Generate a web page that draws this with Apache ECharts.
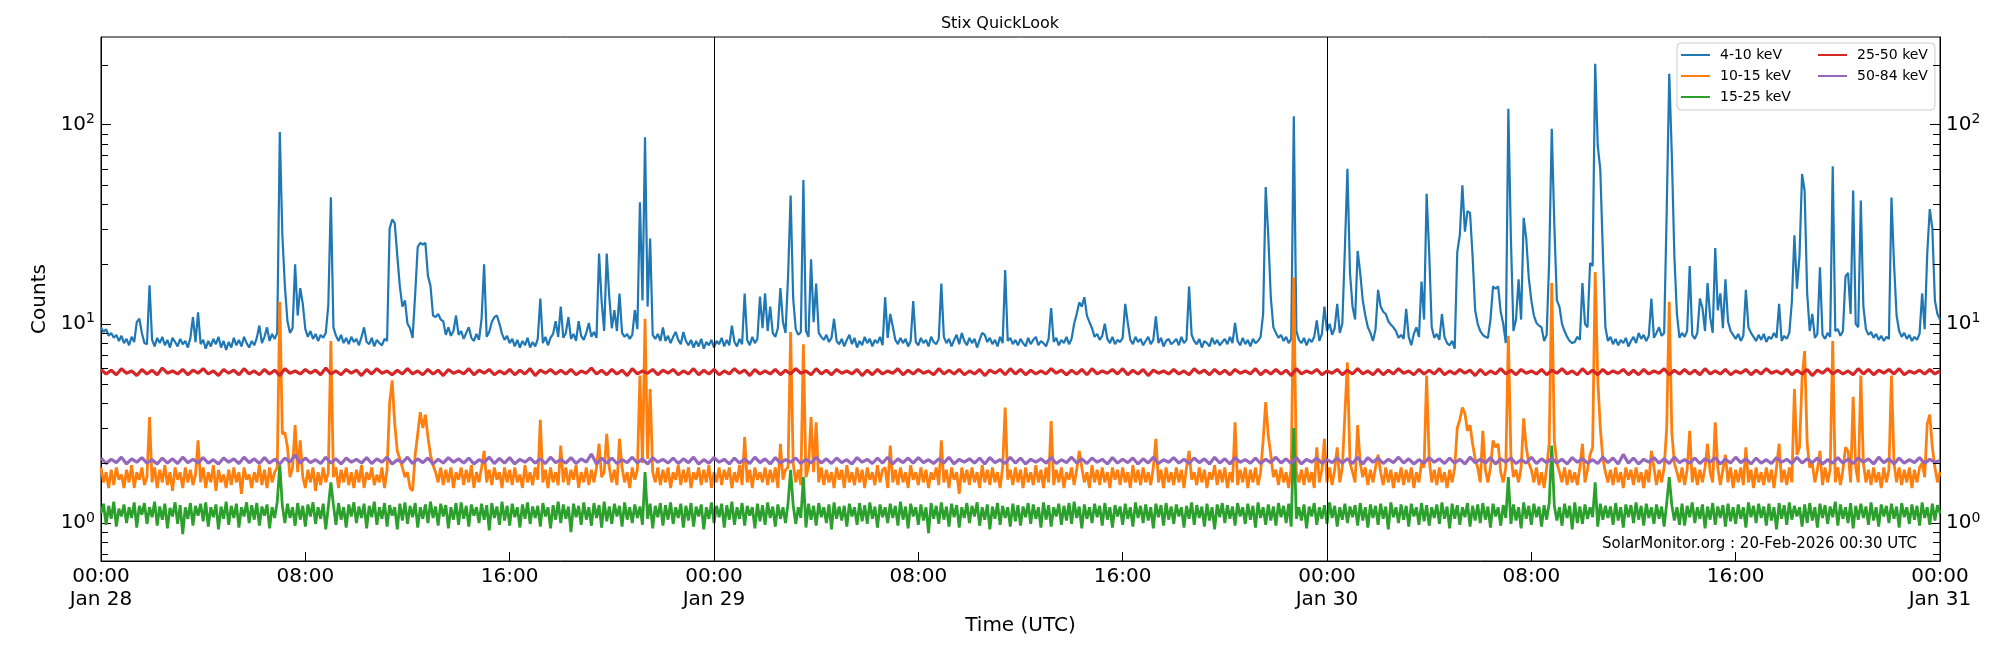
<!DOCTYPE html>
<html>
<head>
<meta charset="utf-8">
<title>Stix QuickLook</title>
<script src="https://cdn.jsdelivr.net/npm/echarts@6/dist/echarts.min.js"></script>
<style>
  html, body { margin: 0; padding: 0; background: #fff; }
  #chart { width: 2000px; height: 650px; }
</style>
</head>
<body>
<div id="chart"></div>
<script>
// time base: Jan 28 00:00 UTC -> Jan 31 00:00 UTC
const startTime = Date.UTC(2026, 0, 28);
const endTime = Date.UTC(2026, 0, 31);
const fineStepMin = 6;    // 4-10, 10-15, 15-25 keV samples
const coarseStepMin = 12; // 25-50, 50-84 keV samples
const dayBoundaries = [Date.UTC(2026, 0, 29), Date.UTC(2026, 0, 30)];
const monthNames = ['Jan','Feb','Mar','Apr','May','Jun','Jul','Aug','Sep','Oct','Nov','Dec'];

const seriesNames = ['4-10 keV', '10-15 keV', '15-25 keV', '25-50 keV', '50-84 keV'];
const seriesColors = ['#1f77b4', '#ff7f0e', '#2ca02c', '#d62728', '#9467bd'];
const seriesWidths = [2.2, 2.8, 2.8, 3.2, 3.2];

const yMin = 0.645;
const yMax = 275;
const minorMantissas = [2, 3, 4, 5, 6, 7, 8, 9];
const minorDecades = [0.1, 1, 10, 100];

// one row per hour (6 min samples)
const counts4to10 = [
  9.6,9.1,9.4,8.7,9.0,8.5,8.8,8.2,8.7,8.0,
  8.4,7.8,8.6,8.1,10.2,10.6,9.0,8.0,7.9,15.6,
  8.3,7.7,8.5,8.0,8.6,7.8,8.3,7.6,8.5,8.1,
  7.7,8.4,7.9,8.2,7.6,8.5,10.8,8.1,11.4,7.9,
  8.3,7.5,8.2,7.7,8.4,7.9,8.6,7.6,8.2,7.4,
  8.1,7.6,8.5,7.8,8.3,7.7,8.6,8.0,7.6,8.2,
  7.8,8.5,9.8,8.0,8.6,9.6,8.2,8.9,8.4,9.0,
  91.6,28.0,15.4,10.3,9.0,9.5,19.9,11.0,15.1,12.6,
  9.4,8.6,9.2,8.4,8.9,8.2,8.8,8.5,9.0,12.4,
  43.2,9.6,8.7,8.2,8.8,8.0,8.5,7.9,8.6,8.1,
  8.4,7.8,8.6,9.6,8.1,7.9,8.5,7.7,8.3,8.0,
  7.8,8.4,8.2,30.0,33.4,32.0,22.0,15.4,12.2,13.1,
  10.0,9.5,8.5,14.0,24.3,25.5,25.0,25.5,17.4,15.5,
  11.0,10.8,11.2,10.5,10.3,8.8,9.6,8.7,9.2,11.0,
  8.8,9.2,8.4,9.0,9.6,8.5,8.2,8.9,8.3,10.6,
  19.9,8.6,9.1,10.2,10.8,11.0,10.0,8.9,8.3,8.7,
  8.0,8.4,7.7,8.3,7.6,8.2,7.8,8.5,7.6,8.1,
  7.7,8.4,13.4,8.0,8.6,7.8,8.5,8.9,10.3,8.6,
  12.2,8.5,9.0,10.8,8.4,8.9,8.2,10.3,8.7,8.3,
  9.0,10.1,8.6,9.1,8.5,22.5,13.0,9.2,22.5,13.6,
  9.5,11.7,9.2,14.2,9.0,8.6,8.9,8.4,8.8,11.7,
  9.4,40.7,13.1,86.4,12.2,26.8,8.8,8.4,8.9,8.2,
  9.6,8.2,8.7,8.0,8.6,9.1,8.3,7.9,9.1,8.2,
  7.8,8.3,7.6,8.2,7.7,8.4,7.5,8.1,7.8,8.3,
  7.6,8.2,7.9,8.5,7.7,8.3,7.8,9.8,8.1,7.7,
  8.4,7.9,14.2,8.3,7.8,8.6,8.0,8.4,13.7,9.5,
  14.2,9.2,12.2,9.0,8.6,9.5,15.1,10.2,9.0,17.3,
  44.0,13.4,9.4,8.8,9.1,52.6,9.2,8.6,21.1,10.2,
  15.9,9.0,8.6,8.3,8.8,8.1,8.5,10.6,8.2,7.9,
  8.4,7.7,8.3,8.8,7.9,8.5,7.6,8.2,7.8,8.6,
  8.0,8.4,7.7,8.3,8.0,8.6,7.8,13.6,8.5,11.2,
  9.7,8.3,7.9,8.5,8.0,8.4,7.7,8.2,13.0,8.1,
  7.8,8.5,8.0,8.3,7.7,8.6,8.1,7.9,8.4,15.9,
  8.6,8.0,8.4,7.7,8.3,8.8,7.9,9.0,8.2,7.8,
  8.5,8.0,8.4,7.6,8.3,9.0,8.8,8.1,8.5,7.9,
  8.3,7.7,8.6,8.0,18.6,8.2,8.5,7.9,8.3,7.8,
  8.4,8.0,7.7,8.5,7.9,8.3,8.6,7.8,8.2,8.0,
  7.7,8.4,12.0,8.1,8.5,7.8,8.3,8.0,8.6,7.9,
  8.4,10.0,11.2,12.8,12.2,13.6,11.0,10.2,9.5,8.6,
  8.9,8.3,8.7,10.0,8.4,8.0,8.6,7.9,8.3,8.1,
  8.5,12.6,10.1,8.3,7.9,8.6,8.1,8.4,7.8,8.2,
  8.6,7.9,8.3,10.9,8.0,8.5,7.7,8.2,8.4,7.9,
  8.1,8.4,7.8,8.6,8.0,8.3,15.4,8.8,8.2,7.9,
  8.4,7.6,8.2,8.0,7.7,8.5,7.9,8.3,7.8,8.1,
  8.4,7.9,8.6,8.0,10.1,8.2,7.8,8.5,7.9,8.3,
  7.7,8.4,8.0,8.2,8.6,11.2,48.6,27.8,13.6,9.6,
  9.0,8.5,8.8,8.2,8.6,8.0,8.4,110,9.2,8.3,
  8.0,8.5,7.8,8.4,8.1,8.6,10.4,8.2,8.9,12.2,
  9.2,10.0,8.8,9.5,12.6,9.0,10.0,23.8,60.0,18.0,
  12.2,10.5,23.2,18.0,13.1,11.0,9.6,9.0,8.2,9.4,
  14.8,12.2,11.5,11.2,10.3,9.9,9.6,9.2,8.5,8.8,
  8.4,11.9,8.6,7.8,8.9,9.6,8.6,16.3,10.5,44.9,
  22.9,9.6,8.5,8.9,8.3,11.2,8.6,8.0,7.8,8.2,
  7.5,22.9,27.9,49.6,29.0,36.8,36.0,21.9,11.7,10.0,
  9.2,8.8,8.6,8.5,10.5,15.4,15.0,15.4,11.5,10.0,
  8.0,120,26.8,9.2,10.5,16.7,10.5,34.0,26.8,17.0,
  13.1,11.0,10.1,9.8,9.6,8.2,8.8,21.0,95.3,31.4,
  13.1,12.2,10.0,9.2,8.6,8.2,8.0,8.1,8.6,8.3,
  16.0,10.0,9.6,20.2,19.5,202,78.5,59.3,22.9,9.6,
  8.2,8.6,7.9,8.4,7.8,8.3,8.0,8.5,7.7,8.2,
  8.6,8.0,9.0,8.4,8.8,8.2,8.7,13.4,8.5,9.0,
  9.6,8.7,9.0,36.8,180,70.8,21.9,11.2,8.5,9.0,
  8.6,9.2,19.5,8.8,8.4,9.0,13.4,12.0,9.2,16.0,
  10.8,9.0,24.0,11.7,14.2,9.5,16.7,10.3,9.2,8.8,
  8.4,8.9,8.2,8.7,14.8,9.6,9.0,8.6,8.2,8.8,
  8.3,8.9,8.1,8.6,8.4,9.0,8.5,12.6,8.2,8.7,
  8.4,9.0,12.9,27.8,15.0,21.9,56.5,46.4,14.2,9.2,
  11.2,8.5,8.9,19.2,8.8,8.4,9.0,8.6,61.7,9.2,
  9.4,8.7,9.2,17.3,18.0,11.2,46.6,10.0,9.6,41.5,
  12.2,9.4,8.8,9.1,8.5,8.9,8.3,8.7,8.2,8.6,
  8.4,43.0,20.0,11.0,9.2,8.6,9.0,8.4,8.8,8.2,
  8.6,8.3,8.9,14.2,9.4,22.5,37.6,30.1,13.1,11.2,
  10.5
];

const counts10to15 = [
  1.9,1.6,1.8,1.5,1.85,1.55,1.9,1.65,1.75,1.5,
  1.85,1.6,1.95,1.5,1.8,1.65,1.9,1.55,1.7,3.4,
  1.6,1.9,1.5,1.85,1.6,1.95,1.55,1.8,1.45,1.9,
  1.65,1.8,1.5,1.9,1.6,1.85,1.55,1.75,2.6,1.6,
  1.9,1.5,1.8,1.6,1.95,1.45,1.85,1.6,1.75,1.5,
  1.85,1.55,1.9,1.6,1.8,1.4,1.9,1.65,1.75,1.5,
  1.8,1.6,1.95,1.55,1.85,1.5,1.9,1.6,1.8,1.9,
  12.9,2.8,2.85,2.4,1.7,1.9,3.1,1.8,2.6,1.7,
  1.5,1.85,1.6,1.9,1.45,1.8,1.55,1.9,1.6,1.8,
  8.2,1.7,1.9,1.5,1.85,1.6,1.9,1.55,1.8,1.5,
  1.85,1.6,1.95,1.5,1.8,1.65,1.9,1.55,1.75,1.6,
  1.9,1.5,1.85,4.0,5.2,3.15,2.3,2.1,1.9,1.7,
  1.8,1.5,1.45,2.2,2.8,3.6,3.0,3.5,2.7,2.2,
  1.95,1.8,1.6,1.9,1.55,1.85,1.6,1.9,1.5,1.8,
  1.65,1.9,1.55,1.85,1.6,1.95,1.5,1.8,1.6,1.9,
  2.3,1.6,1.85,1.55,1.9,1.65,1.8,1.5,1.9,1.6,
  1.85,1.55,1.9,1.6,1.75,1.5,1.95,1.6,1.8,1.55,
  1.9,1.65,3.3,1.6,1.85,1.5,1.9,1.6,1.8,1.55,
  2.45,1.6,1.9,1.55,1.85,1.65,1.95,1.5,1.8,1.6,
  1.9,1.55,1.85,1.6,1.9,2.5,1.7,1.8,2.8,1.9,
  1.6,1.85,1.55,2.65,1.9,1.6,1.8,1.5,1.9,1.65,
  1.85,5.5,2.0,10.6,2.1,4.7,1.8,1.6,1.9,1.55,
  1.85,1.6,1.9,1.5,1.8,1.65,1.95,1.55,1.85,1.6,
  1.9,1.5,1.8,1.65,1.9,1.55,1.85,1.6,1.95,1.5,
  1.8,1.6,1.9,1.55,1.85,1.65,1.9,1.5,1.8,1.6,
  1.95,1.55,2.7,1.6,1.85,1.5,1.9,1.65,1.8,1.6,
  1.9,1.55,1.85,1.6,1.9,1.5,2.5,1.65,1.85,1.9,
  9.1,2.0,1.6,1.85,1.55,7.9,1.7,1.9,3.4,1.8,
  3.2,1.6,1.9,1.55,1.85,1.6,1.8,1.5,1.9,1.65,
  1.85,1.5,1.95,1.6,1.8,1.55,1.9,1.6,1.85,1.5,
  1.9,1.65,1.8,1.55,1.95,1.6,1.85,1.9,1.5,2.45,
  1.6,1.85,1.55,1.9,1.6,1.8,1.5,1.95,1.65,1.8,
  1.55,1.9,1.6,1.85,1.5,1.8,1.65,1.9,1.55,2.6,
  1.6,1.85,1.5,1.9,1.65,1.8,1.4,1.9,1.6,1.85,
  1.55,1.9,1.6,1.8,1.5,1.95,1.6,1.85,1.55,1.9,
  1.6,1.8,1.5,1.9,3.8,1.65,1.85,1.55,1.9,1.6,
  1.85,1.5,1.9,1.6,1.8,1.55,1.95,1.6,1.85,1.5,
  1.9,1.6,3.25,1.55,1.85,1.6,1.9,1.5,1.8,1.65,
  1.9,1.55,1.85,2.3,1.9,1.6,1.8,1.5,1.95,1.6,
  1.85,1.55,1.9,1.6,1.8,1.5,1.9,1.65,1.85,1.55,
  1.9,1.6,1.8,1.5,1.95,1.6,1.85,1.55,1.9,1.6,
  1.8,1.55,1.9,2.65,1.6,1.85,1.5,1.9,1.6,1.8,
  1.55,1.9,1.6,1.85,1.5,1.9,2.3,1.65,1.8,1.55,
  1.9,1.6,1.85,1.5,1.8,1.65,1.95,1.55,1.85,1.6,
  1.9,1.5,1.8,1.6,3.2,1.55,1.85,1.6,1.9,1.5,
  1.85,1.6,1.9,1.55,1.8,2.6,4.05,2.75,2.2,1.7,
  1.85,1.55,1.9,1.6,1.8,1.5,1.9,17.1,1.8,1.6,
  1.85,1.55,1.9,1.6,1.8,1.5,2.4,1.6,1.85,2.65,
  1.6,1.9,1.55,1.85,2.4,1.6,1.9,3.5,6.4,2.0,
  1.8,1.6,3.1,2.0,1.7,1.9,1.55,1.85,1.6,1.9,
  2.2,1.8,1.55,1.9,1.6,1.85,1.5,1.8,1.6,1.9,
  1.55,1.85,1.6,1.9,1.5,1.8,1.6,2.0,1.9,5.5,
  2.1,1.6,1.85,1.55,1.9,1.6,1.8,1.5,1.85,1.6,
  1.9,3.0,3.3,3.8,3.55,2.9,3.1,2.5,2.1,1.9,
  1.6,2.9,1.85,1.6,1.9,2.6,2.4,2.5,1.8,1.6,
  1.9,8.7,2.2,1.7,1.85,1.6,1.9,3.35,2.4,2.0,
  1.85,1.6,1.9,1.55,1.8,1.5,1.9,2.5,16.0,2.6,
  2.0,1.8,1.6,1.9,1.55,1.85,1.6,1.8,1.55,1.9,
  2.5,1.6,1.85,2.2,2.4,18.2,5.3,3.0,2.1,1.8,
  1.6,1.85,1.55,1.9,1.6,1.8,1.5,1.9,1.65,1.85,
  1.55,1.9,1.6,1.8,1.5,1.85,1.6,2.3,1.9,1.55,
  1.85,1.6,1.9,3.0,12.9,2.85,2.0,1.8,1.6,1.9,
  1.55,1.85,2.9,1.6,1.9,1.55,1.85,1.6,1.9,2.5,
  1.8,1.6,3.2,1.9,1.55,1.85,2.2,1.6,1.9,1.5,
  1.85,1.6,1.9,1.55,2.4,1.6,1.85,1.5,1.9,1.6,
  1.8,1.55,1.9,1.6,1.85,1.5,1.9,2.5,1.6,1.85,
  1.55,1.9,1.6,4.7,2.2,2.4,5.3,7.3,2.5,1.9,
  2.0,1.6,1.85,2.3,1.55,1.9,1.6,1.85,8.2,1.6,
  1.9,1.55,1.85,2.4,2.3,1.6,4.3,1.9,1.6,5.5,
  2.0,1.6,1.85,1.55,1.9,1.6,1.8,1.5,1.9,1.6,
  1.85,5.5,2.0,1.6,1.9,1.55,1.85,1.6,1.9,1.5,
  1.85,1.6,1.9,2.0,1.7,3.15,3.5,2.4,1.9,1.6,
  1.8
];

const counts15to25 = [
  1.12,1.25,0.98,1.22,1.05,1.28,0.96,1.18,1.08,1.24,
  1.0,1.2,1.06,1.27,0.95,1.22,1.1,1.26,0.99,1.2,
  1.07,1.28,0.97,1.21,1.04,1.25,0.94,1.19,1.08,1.27,
  0.99,1.23,0.88,1.2,1.05,1.26,0.97,1.22,1.09,1.25,
  1.02,1.27,0.96,1.2,1.07,1.24,0.93,1.21,1.05,1.28,
  0.98,1.22,1.06,1.25,0.95,1.2,1.08,1.27,1.0,1.23,
  1.04,1.26,0.97,1.21,1.09,1.24,0.94,1.2,1.06,1.28,
  1.95,1.22,1.0,1.25,1.06,1.2,0.97,1.26,1.04,1.22,
  0.96,1.24,1.08,1.27,0.99,1.2,1.05,1.25,0.93,1.21,
  1.6,1.23,0.98,1.26,1.04,1.2,0.95,1.24,1.08,1.27,
  1.0,1.21,1.06,1.25,0.94,1.22,1.07,1.28,0.98,1.2,
  1.05,1.26,0.96,1.23,1.09,1.2,0.93,1.25,1.03,1.27,
  0.99,1.22,1.07,1.26,0.95,1.2,1.05,1.24,1.0,1.28,
  1.06,1.21,0.97,1.25,1.08,1.23,0.94,1.2,1.04,1.26,
  0.98,1.27,1.05,1.22,0.96,1.24,1.09,1.2,1.0,1.25,
  1.04,1.23,0.92,1.26,1.06,1.21,0.98,1.28,1.03,1.22,
  0.97,1.25,1.07,1.2,0.95,1.24,1.05,1.27,0.99,1.21,
  1.06,1.22,0.96,1.26,1.08,1.2,0.94,1.23,1.04,1.28,
  1.0,1.24,1.05,1.21,0.9,1.25,1.07,1.22,0.98,1.27,
  1.04,1.2,0.97,1.26,1.06,1.23,0.95,1.28,1.02,1.21,
  0.99,1.25,1.08,1.22,0.96,1.27,1.04,1.2,1.0,1.24,
  1.06,1.21,0.98,1.8,1.05,1.25,0.94,1.22,1.07,1.26,
  0.97,1.23,1.04,1.27,0.99,1.2,1.06,1.25,0.95,1.22,
  1.03,1.26,0.96,1.21,1.08,1.24,0.93,1.2,1.05,1.27,
  1.0,1.22,1.07,1.25,0.95,1.23,1.04,1.28,0.98,1.2,
  1.05,1.26,0.97,1.22,1.09,1.2,0.94,1.25,1.02,1.23,
  0.98,1.27,1.06,1.21,0.96,1.24,1.05,1.2,1.0,1.26,
  1.85,1.23,0.99,1.2,1.06,1.7,0.95,1.25,1.04,1.22,
  0.97,1.26,1.07,1.2,1.0,1.24,0.93,1.27,1.05,1.21,
  1.03,1.22,0.96,1.25,1.08,1.2,0.98,1.26,1.02,1.23,
  0.99,1.27,1.05,1.21,0.95,1.24,1.07,1.2,1.0,1.25,
  1.06,1.22,0.97,1.28,1.04,1.21,0.94,1.25,1.08,1.2,
  0.98,1.24,1.03,1.2,0.89,1.26,1.05,1.22,0.99,1.27,
  1.04,1.21,0.96,1.25,1.07,1.23,0.95,1.2,1.06,1.26,
  1.0,1.22,1.08,1.27,0.97,1.2,1.04,1.24,0.93,1.21,
  1.05,1.26,0.98,1.22,1.06,1.2,0.96,1.25,1.02,1.23,
  0.97,1.21,1.07,1.26,0.99,1.24,1.05,1.2,0.95,1.27,
  1.04,1.23,0.96,1.2,1.08,1.25,0.98,1.22,1.03,1.26,
  0.99,1.28,1.06,1.21,0.94,1.24,1.05,1.2,1.0,1.25,
  1.07,1.22,0.97,1.26,1.04,1.2,0.95,1.23,1.08,1.21,
  0.98,1.25,1.05,1.2,0.96,1.27,1.06,1.22,1.0,1.24,
  1.03,1.2,0.94,1.25,1.07,1.23,0.97,1.26,1.04,1.21,
  0.99,1.24,1.08,1.2,0.95,1.22,1.05,1.27,0.98,1.23,
  1.06,1.21,0.96,1.25,1.03,1.2,0.93,1.24,1.07,1.26,
  1.0,1.23,1.05,1.21,0.97,1.26,1.08,1.2,0.99,1.25,
  1.04,1.22,0.95,1.27,1.06,1.2,0.98,1.24,1.03,1.21,
  0.97,1.26,1.07,1.22,1.0,1.25,0.96,3.0,1.05,1.2,
  1.03,1.24,0.94,1.21,1.08,1.26,0.98,1.2,1.05,1.23,
  0.99,1.27,1.06,1.22,0.96,1.2,1.04,1.25,1.0,1.21,
  1.07,1.23,0.97,1.26,1.03,1.2,0.95,1.24,1.06,1.22,
  0.98,1.25,1.05,1.21,0.93,1.27,1.07,1.2,1.0,1.24,
  1.04,1.22,0.96,1.25,1.08,1.2,0.98,1.26,1.02,1.23,
  0.97,1.2,1.06,1.24,0.99,1.27,1.05,1.21,0.94,1.25,
  1.05,1.23,0.98,1.2,1.07,1.26,0.96,1.22,1.03,1.24,
  1.0,1.26,1.04,1.21,0.95,1.25,1.08,1.2,0.97,1.23,
  1.06,1.7,0.99,1.24,1.03,1.2,0.94,1.27,1.05,1.22,
  0.98,1.25,1.07,1.21,0.96,1.23,1.04,1.26,2.45,1.22,
  1.03,1.2,0.97,1.25,1.06,1.22,0.93,1.27,1.0,1.21,
  0.99,1.24,1.05,1.2,1.07,1.6,0.96,1.25,1.04,1.22,
  1.06,1.21,0.98,1.26,1.03,1.2,0.95,1.24,1.07,1.23,
  1.0,1.27,1.04,1.22,0.97,1.25,1.06,1.2,0.99,1.24,
  1.05,1.21,0.96,1.26,1.7,1.23,1.03,1.2,0.98,1.25,
  0.97,1.22,1.07,1.27,1.0,1.2,1.05,1.24,0.94,1.21,
  1.04,1.26,0.98,1.21,1.06,1.23,0.96,1.25,1.02,1.2,
  0.99,1.24,1.05,1.2,0.95,1.27,1.07,1.22,1.0,1.25,
  1.06,1.21,0.97,1.25,1.03,1.2,0.93,1.26,1.05,1.23,
  0.98,1.27,1.04,1.22,1.08,1.2,0.96,1.24,1.0,1.26,
  1.03,1.2,0.95,1.25,1.06,1.23,0.99,1.21,1.07,1.28,
  0.97,1.24,1.05,1.2,1.0,1.26,0.94,1.22,1.04,1.25,
  1.06,1.21,0.98,1.27,1.03,1.2,0.96,1.24,1.08,1.22,
  1.0,1.25,1.05,1.21,0.95,1.26,1.07,1.2,0.99,1.24,
  1.04,1.22,0.97,1.27,1.06,1.2,0.98,1.25,1.03,1.23,
  1.12
];

// one row per two hours (12 min samples)
const counts25to50 = [
  5.9,5.6,5.85,5.55,5.95,5.65,5.8,5.5,5.9,5.6,
  5.85,5.55,6.0,5.65,5.8,5.6,5.9,5.55,5.85,5.65,
  5.95,5.6,5.8,5.5,5.9,5.65,5.85,5.55,5.95,5.6,
  5.8,5.55,5.9,5.6,5.85,5.5,5.95,5.65,5.8,5.6,
  5.9,5.65,5.85,5.55,6.0,5.6,5.8,5.55,5.9,5.65,
  5.85,5.5,5.9,5.6,5.95,5.65,5.8,5.55,5.85,5.6,
  5.95,5.6,5.8,5.55,5.9,5.6,5.85,5.5,5.9,5.65,
  5.8,5.6,5.95,5.55,5.85,5.65,5.9,5.55,5.8,5.6,
  5.9,5.55,5.85,5.6,5.95,5.5,5.85,5.65,5.9,5.6,
  5.85,5.6,5.9,5.55,5.8,5.65,6.0,5.6,5.85,5.55,
  5.9,5.6,5.85,5.5,5.95,5.6,5.8,5.65,5.9,5.55,
  5.85,5.65,5.9,5.55,5.8,5.6,5.95,5.55,5.85,5.6,
  5.9,5.55,5.8,5.6,5.95,5.65,5.85,5.5,5.9,5.6,
  5.8,5.6,5.9,5.55,5.85,5.6,5.95,5.65,5.8,5.55,
  5.95,5.6,5.85,5.55,5.9,5.65,5.8,5.6,5.9,5.5,
  5.85,5.55,5.9,5.6,5.8,5.65,5.95,5.55,5.85,5.6,
  5.9,5.65,5.8,5.55,5.95,5.6,5.85,5.6,5.9,5.55,
  5.8,5.6,5.9,5.5,5.85,5.65,5.9,5.55,5.95,5.6,
  5.9,5.55,5.85,5.6,5.8,5.6,5.95,5.65,5.85,5.55,
  5.85,5.6,5.9,5.55,5.95,5.6,5.8,5.65,5.9,5.6,
  5.95,5.55,5.85,5.6,5.9,5.5,5.85,5.65,5.8,5.6,
  5.9,5.6,5.8,5.55,5.95,5.65,5.85,5.55,5.9,5.6,
  5.85,5.55,5.9,5.65,5.8,5.6,5.95,5.55,5.85,5.6,
  5.9,5.6,5.85,5.5,5.95,5.6,5.8,5.65,5.9,5.55,
  5.8,5.65,5.9,5.55,5.85,5.6,5.95,5.6,5.8,5.55,
  5.9,5.55,5.85,5.6,5.95,5.65,5.8,5.55,5.9,5.6,
  5.85,5.6,5.95,5.55,5.8,5.6,5.9,5.65,5.85,5.5,
  5.9,5.55,5.8,5.6,5.95,5.6,5.85,5.55,5.9,5.65,
  5.8,5.6,5.9,5.55,5.85,5.65,5.95,5.6,5.8,5.55,
  5.95,5.6,5.85,5.55,5.9,5.6,5.8,5.65,5.9,5.55,
  5.85,5.55,5.9,5.6,5.8,5.65,5.95,5.55,5.85,5.6,
  5.9,5.6,5.85,5.55,5.95,5.6,5.8,5.6,5.9,5.55,
  5.8,5.65,5.9,5.55,5.85,5.6,5.95,5.65,5.8,5.6,
  5.9,5.55,5.85,5.6,5.9,5.5,5.85,5.65,5.95,5.6,
  5.85,5.6,5.8,5.55,5.95,5.6,5.9,5.55,5.85,5.65,
  5.9,5.6,5.95,5.55,5.8,5.65,5.85,5.6,5.9,5.6,
  5.8
];

const counts50to84 = [
  2.12,1.99,2.09,2.01,2.14,1.98,2.1,2.02,2.13,2.0,
  2.08,1.98,2.12,2.0,2.1,1.99,2.14,2.01,2.09,2.0,
  2.13,2.0,2.08,1.98,2.12,2.02,2.1,1.99,2.14,2.01,
  2.1,1.99,2.13,2.0,2.09,1.98,2.12,2.02,2.2,2.0,
  2.12,2.01,2.08,1.99,2.14,2.0,2.1,1.98,2.12,2.02,
  2.09,2.0,2.13,1.99,2.1,2.02,2.14,1.98,2.08,2.01,
  2.14,1.99,2.1,2.01,2.12,1.98,2.09,2.0,2.13,2.02,
  2.1,2.0,2.12,1.98,2.08,2.01,2.14,1.99,2.11,2.0,
  2.13,1.98,2.09,2.02,2.12,2.0,2.1,1.99,2.14,2.01,
  2.08,2.0,2.13,1.99,2.1,2.02,2.22,1.98,2.12,2.0,
  2.12,1.99,2.08,2.01,2.14,2.0,2.1,1.98,2.13,2.02,
  2.09,2.0,2.12,1.99,2.1,2.01,2.14,1.98,2.08,2.0,
  2.13,2.02,2.09,1.98,2.12,2.0,2.1,1.99,2.14,2.01,
  2.1,1.98,2.13,2.0,2.08,2.02,2.12,1.99,2.09,2.0,
  2.14,2.0,2.1,1.99,2.12,2.01,2.08,1.98,2.13,2.02,
  2.09,1.99,2.12,2.0,2.14,1.98,2.1,2.01,2.12,2.0,
  2.13,2.01,2.08,1.99,2.1,2.0,2.14,1.98,2.09,2.02,
  2.1,2.0,2.12,1.98,2.13,2.01,2.08,1.99,2.14,2.0,
  2.12,1.98,2.09,2.02,2.1,2.0,2.13,1.99,2.08,2.01,
  2.14,2.0,2.1,1.99,2.12,2.02,2.09,1.98,2.13,2.0,
  2.09,2.01,2.12,1.98,2.1,2.0,2.14,1.99,2.08,2.02,
  2.13,2.0,2.09,1.99,2.12,2.01,2.1,1.98,2.14,2.0,
  2.1,1.98,2.13,2.02,2.08,2.0,2.12,1.99,2.09,2.01,
  2.14,2.0,2.1,1.99,2.13,1.98,2.09,2.02,2.12,2.0,
  2.08,2.01,2.12,2.0,2.1,1.99,2.14,1.98,2.13,2.02,
  2.12,1.99,2.09,2.01,2.14,2.0,2.1,1.98,2.08,2.0,
  2.13,2.02,2.1,1.99,2.12,2.0,2.09,1.98,2.14,2.01,
  2.09,2.0,2.13,1.98,2.1,2.02,2.12,1.99,2.08,2.0,
  2.14,1.99,2.1,2.01,2.12,2.0,2.09,1.98,2.13,2.02,
  2.1,2.0,2.08,1.99,2.14,2.01,2.12,1.98,2.21,2.0,
  2.12,1.98,2.09,2.02,2.13,2.0,2.1,1.99,2.14,2.01,
  2.08,2.0,2.12,1.99,2.1,2.02,2.13,1.98,2.09,2.0,
  2.14,2.01,2.1,1.98,2.12,2.0,2.08,1.99,2.13,2.02,
  2.09,1.99,2.14,2.0,2.1,2.01,2.12,1.98,2.08,2.0,
  2.13,2.0,2.09,1.99,2.12,2.02,2.1,1.98,2.14,2.01,
  2.1,1.98,2.12,2.0,2.08,2.01,2.13,1.99,2.09,2.02,
  2.06
];

const font = 'DejaVu Sans';
const chart = echarts.init(document.getElementById('chart'));

function withTimes(values, stepMin) {
  return values.map((v, i) => [startTime + i * stepMin * 60000, v]);
}

const seriesData = [
  withTimes(counts4to10, fineStepMin),
  withTimes(counts10to15, fineStepMin),
  withTimes(counts15to25, fineStepMin),
  withTimes(counts25to50, coarseStepMin),
  withTimes(counts50to84, coarseStepMin)
];

function pad2(n) { return n < 10 ? '0' + n : '' + n; }

function timeLabel(value) {
  const d = new Date(value);
  const hm = pad2(d.getUTCHours()) + ':' + pad2(d.getUTCMinutes());
  if (d.getUTCHours() === 0) {
    return hm + '\n' + monthNames[d.getUTCMonth()] + ' ' + pad2(d.getUTCDate());
  }
  return hm;
}

function powerLabel(value) {
  const p = Math.round(Math.log10(value));
  return '{b|10}{s|' + p + '}';
}

function yAxisCfg(pos) {
  return {
    type: 'log',
    logBase: 10,
    position: pos,
    min: yMin,
    max: yMax,
    name: pos === 'left' ? 'Counts' : '',
    nameLocation: 'middle',
    nameGap: 46,
    nameRotate: 90,
    nameTextStyle: { fontFamily: font, fontSize: 20, color: '#000' },
    axisLine: { show: true, lineStyle: { color: '#000', width: 1 } },
    axisTick: { show: true, inside: true, length: 10, lineStyle: { color: '#000', width: 1 } },
    axisLabel: {
      show: true,
      margin: 6,
      showMinLabel: false,
      showMaxLabel: false,
      formatter: powerLabel,
      rich: {
        b: { fontFamily: font, fontSize: 20, color: '#000', lineHeight: 24 },
        s: { fontFamily: font, fontSize: 14, color: '#000', verticalAlign: 'top', lineHeight: 14, padding: [0, 0, 8, 0] }
      }
    },
    splitLine: { show: false }
  };
}

const series = seriesNames.map((name, i) => ({
  name: name,
  type: 'line',
  data: seriesData[i],
  showSymbol: false,
  symbol: 'none',
  sampling: null,
  lineStyle: { color: seriesColors[i], width: seriesWidths[i] },
  itemStyle: { color: seriesColors[i] },
  emphasis: { disabled: true },
  silent: true,
  z: 2 + i
}));

series[0].markLine = {
  silent: true,
  symbol: ['none', 'none'],
  label: { show: false },
  lineStyle: { color: '#000', width: 1, type: 'solid' },
  emphasis: { disabled: true },
  data: dayBoundaries.map(t => ({ xAxis: t }))
};

const legendText = { fontFamily: font, fontSize: 14, color: '#000', lineHeight: 14, padding: [0, 0, 0, 5] };

const option = {
  animation: false,
  backgroundColor: '#fff',
  textStyle: { fontFamily: font },
  title: [
    {
      text: 'Stix QuickLook',
      left: 'center',
      top: 16,
      padding: 0,
      textStyle: { fontFamily: font, fontSize: 16, fontWeight: 'normal', color: '#000' }
    },
    {
      text: 'SolarMonitor.org : 20-Feb-2026 00:30 UTC',
      right: 83,
      top: 537,
      padding: 0,
      textStyle: { fontFamily: font, fontSize: 15, fontWeight: 'normal', color: '#000' }
    }
  ],
  legend: [
    {
      data: seriesNames.slice(0, 3),
      orient: 'vertical',
      left: 1677,
      top: 43,
      padding: [5, 144, 6, 4],
      itemGap: 7,
      itemWidth: 29,
      itemHeight: 2,
      icon: 'rect',
      selectedMode: false,
      backgroundColor: 'rgba(255,255,255,0.85)',
      borderColor: '#cccccc',
      borderWidth: 1,
      borderRadius: 4,
      textStyle: legendText,
      z: 10
    },
    {
      data: seriesNames.slice(3),
      orient: 'vertical',
      left: 1818,
      top: 48,
      padding: 0,
      itemGap: 7,
      itemWidth: 29,
      itemHeight: 2,
      icon: 'rect',
      selectedMode: false,
      textStyle: legendText,
      z: 11
    }
  ],
  grid: {
    left: 101,
    right: 60,
    top: 37,
    bottom: 89,
    show: true,
    borderColor: '#000',
    borderWidth: 1,
    backgroundColor: 'transparent'
  },
  xAxis: {
    type: 'value',
    min: startTime,
    max: endTime,
    interval: 8 * 3600 * 1000,
    name: 'Time (UTC)',
    nameLocation: 'middle',
    nameGap: 54,
    nameTextStyle: { fontFamily: font, fontSize: 20, color: '#000' },
    axisLine: { show: true, lineStyle: { color: '#000', width: 1 } },
    axisTick: { show: true, inside: true, length: 9, lineStyle: { color: '#000', width: 1 } },
    axisLabel: {
      formatter: timeLabel,
      fontFamily: font,
      fontSize: 20,
      color: '#000',
      lineHeight: 23,
      margin: 4,
      showMinLabel: true,
      showMaxLabel: true
    },
    splitLine: { show: false }
  },
  yAxis: [yAxisCfg('left'), yAxisCfg('right')],
  series: series
};

chart.setOption(option);

// minor ticks of the log axis (2..9 x 10^n), placed with the axis scale
const minorTickValues = [];
minorDecades.forEach(d => minorMantissas.forEach(m => {
  const v = m * d;
  if (v > yMin && v < yMax) minorTickValues.push(v);
}));
const xLeft = chart.convertToPixel({ xAxisIndex: 0 }, startTime);
const xRight = chart.convertToPixel({ xAxisIndex: 0 }, endTime);
const minorTicks = [];
minorTickValues.forEach(v => {
  const y = Math.round(chart.convertToPixel({ yAxisIndex: 0 }, v)) + 0.5;
  minorTicks.push({ type: 'line', silent: true, z: 20, shape: { x1: xLeft, y1: y, x2: xLeft + 7, y2: y }, style: { stroke: '#000', lineWidth: 1 } });
  minorTicks.push({ type: 'line', silent: true, z: 20, shape: { x1: xRight - 7, y1: y, x2: xRight, y2: y }, style: { stroke: '#000', lineWidth: 1 } });
});
chart.setOption({ graphic: minorTicks });
</script>
</body>
</html>
